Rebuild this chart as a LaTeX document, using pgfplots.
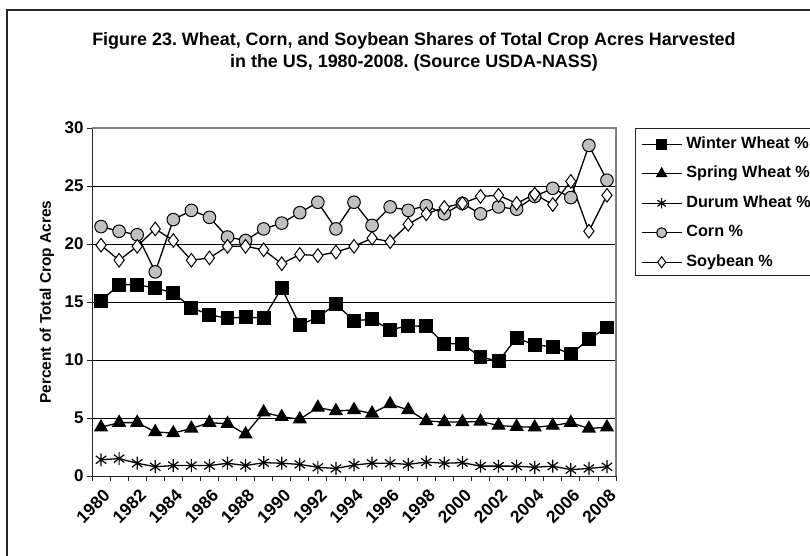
\documentclass[border=0pt]{standalone}
\usepackage{pgfplots}
\pgfplotsset{compat=1.18}
\usepackage{fontspec}
\setmainfont{Liberation Sans}
\usepackage{pgfplotstable}
\definecolor{corngray}{HTML}{C0C0C0}
\definecolor{framegray}{HTML}{808080}
\frenchspacing

% vertical bar plus a cross, as in the Excel durum marker
\pgfdeclareplotmark{durumstar}{%
  \pgfpathmoveto{\pgfqpoint{0pt}{\pgfplotmarksize}}%
  \pgfpathlineto{\pgfqpoint{0pt}{-\pgfplotmarksize}}%
  \pgfpathmoveto{\pgfqpoint{-0.8\pgfplotmarksize}{0.6\pgfplotmarksize}}%
  \pgfpathlineto{\pgfqpoint{0.8\pgfplotmarksize}{-0.6\pgfplotmarksize}}%
  \pgfpathmoveto{\pgfqpoint{-0.8\pgfplotmarksize}{-0.6\pgfplotmarksize}}%
  \pgfpathlineto{\pgfqpoint{0.8\pgfplotmarksize}{0.6\pgfplotmarksize}}%
  \pgfusepathqstroke}

% shares of total crop acres harvested, percent
\pgfplotstableread{
year winter spring durum corn soy
1980 15.1  4.2  1.4  21.5 19.9
1981 16.5  4.6  1.5  21.1 18.6
1982 16.5  4.6  1.1  20.8 19.8
1983 16.2  3.8  0.8  17.6 21.3
1984 15.8  3.7  0.9  22.1 20.3
1985 14.5  4.1  0.9  22.9 18.6
1986 13.9  4.6  0.9  22.3 18.8
1987 13.6  4.5  1.1  20.6 19.8
1988 13.7  3.6  0.9  20.3 19.8
1989 13.6  5.5  1.15 21.3 19.5
1990 16.2  5.1  1.1  21.8 18.3
1991 13.0  4.9  1.0  22.7 19.1
1992 13.7  5.9  0.75 23.6 19.0
1993 14.8  5.6  0.65 21.3 19.3
1994 13.4  5.7  0.95 23.6 19.8
1995 13.5  5.4  1.1  21.6 20.5
1996 12.6  6.2  1.1  23.2 20.2
1997 12.95 5.7  1.0  22.9 21.7
1998 12.9  4.75 1.2  23.3 22.6
1999 11.4  4.65 1.1  22.6 23.15
2000 11.4  4.65 1.15 23.5 23.5
2001 10.25 4.7  0.85 22.6 24.1
2002 9.9   4.35 0.85 23.2 24.2
2003 11.9  4.25 0.85 23.0 23.5
2004 11.3  4.2  0.75 24.1 24.3
2005 11.15 4.35 0.85 24.8 23.4
2006 10.5  4.6  0.55 24.0 25.4
2007 11.8  4.1  0.65 28.5 21.1
2008 12.8  4.2  0.8  25.5 24.2
}\cropdata

\begin{document}
\begin{tikzpicture}
\useasboundingbox (0bp,0bp) rectangle (810bp,-556bp);
\begin{scope}[x=1bp,y=1bp]
% chart frame, cut off at right and bottom
\draw[black!85, line width=1.2bp] (7,-620) -- (7,-10) -- (860,-10);

\node[anchor=base, font=\fontsize{18}{21}\selectfont\bfseries] at (414,-45)
  {Figure 23. Wheat, Corn, and Soybean Shares of Total Crop Acres Harvested};
\node[anchor=base, font=\fontsize{18}{21}\selectfont\bfseries] at (414,-67)
  {in the US, 1980-2008. (Source USDA-NASS)};
\node[rotate=90, font=\fontsize{15.5}{18}\selectfont\bfseries] at (47,-302)
  {Percent of Total Crop Acres};
\end{scope}

\begin{axis}[
  at={(92bp,-476bp)}, anchor=south west,
  scale only axis, width=524bp, height=348bp,
  xmin=1979.5, xmax=2008.5, ymin=0, ymax=30,
  xtick={1980,1982,...,2008},
  minor xtick={1979.5,1980.5,...,2008.5},
  ytick={0,5,...,30},
  axis x line*=bottom, axis y line*=left,
  axis line style={black!85, line width=0.9bp},
  tick align=outside,
  major tick length=5bp, minor tick length=5bp,
  major x tick style={draw=none},
  minor x tick style={black!85, line width=0.8bp},
  y tick style={black!85, line width=0.8bp},
  ymajorgrids, grid style={black, line width=0.6bp},
  /pgf/number format/assume math mode=true,
  /pgf/number format/1000 sep={},
  yticklabel style={font=\fontsize{17}{19}\selectfont\bfseries},
  xticklabel style={font=\fontsize{17.5}{19}\selectfont\bfseries,
    rotate=45, anchor=north east, inner sep=2bp, xshift=-2bp, yshift=-4bp},
  clip=false,
  legend cell align=left,
  legend image code/.code={
    \draw[mark repeat=2, mark phase=2, #1, every mark/.append style={scale=0.8}]
      plot coordinates {(0bp,0bp) (20bp,0bp) (40bp,0bp)};},
  legend style={at={(axis description cs:1.0477,0.9756)}, anchor=north west,
    draw=none, fill=none, inner sep=0pt, outer sep=0pt,
    row sep=14bp, column sep=4bp,
    font=\fontsize{16.3}{18}\selectfont\bfseries,
    nodes={inner sep=0pt, text height=12bp, text depth=3.5bp}},
]
\addplot[black, line width=1.3bp, mark=square*, mark size=6.3bp,
  mark options={solid, fill=black}] table[x=year, y=winter] {\cropdata};
\addlegendentry{Winter Wheat \%}
\addplot[black, line width=1.3bp, mark=triangle*, mark size=7bp,
  mark options={solid, fill=black}] table[x=year, y=spring] {\cropdata};
\addlegendentry{Spring Wheat \%}
\addplot[black, line width=1.3bp, mark=durumstar, mark size=6.5bp,
  mark options={solid, line width=1.2bp}] table[x=year, y=durum] {\cropdata};
\addlegendentry{Durum Wheat \%}
\addplot[black, line width=1.3bp, mark=*, mark size=6.3bp,
  mark options={solid, fill=corngray, draw=black, line width=1bp}] table[x=year, y=corn] {\cropdata};
\addlegendentry{Corn \%}
\addplot[black, line width=1.3bp, mark=diamond*, mark size=6.8bp,
  mark options={solid, fill=white, draw=black, line width=1bp}] table[x=year, y=soy] {\cropdata};
\addlegendentry{Soybean \%}

% plot area border on top and right
\draw[framegray, line width=1.5bp] (rel axis cs:0,1) -- (rel axis cs:1,1) -- (rel axis cs:1,0);
\end{axis}

% legend box, running off the right edge
\draw[black!85, line width=1bp] (635bp,-128bp) rectangle (860bp,-275bp);
\end{tikzpicture}
\end{document}
